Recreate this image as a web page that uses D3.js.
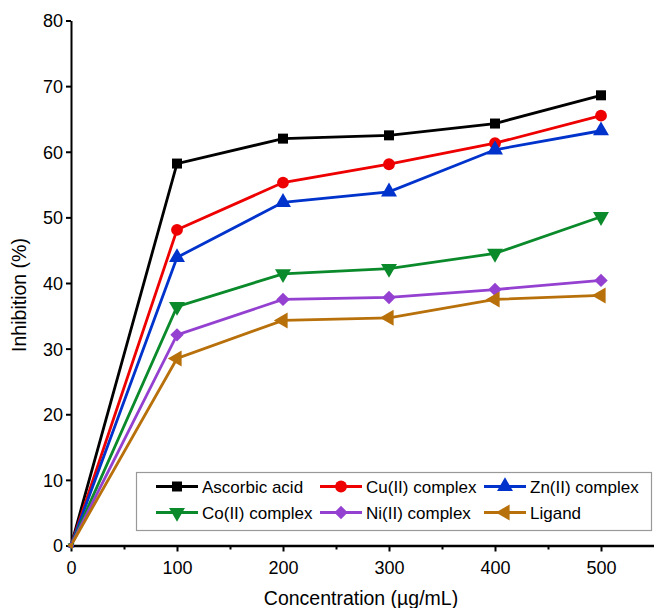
<!DOCTYPE html>
<html>
<head>
<meta charset="utf-8">
<script src="https://cdn.jsdelivr.net/npm/d3@7"></script>
<style>
  body { margin: 0; background: #fff; }
  svg text { font-family: "Liberation Sans", Arial, sans-serif; fill: #000; }
</style>
</head>
<body>
<svg id="chart" width="654" height="608"></svg>
<script>
// data
const concentrations = [0, 100, 200, 300, 400, 500];
const seriesNames = ["Ascorbic acid", "Cu(II) complex", "Zn(II) complex", "Co(II) complex", "Ni(II) complex", "Ligand"];
const ascorbic = [0, 58.2, 62.0, 62.5, 64.3, 68.6];
const cuComplex = [0, 48.1, 55.3, 58.1, 61.3, 65.5];
const znComplex = [0, 43.9, 52.3, 53.9, 60.3, 63.2];
const coComplex = [0, 36.4, 41.4, 42.2, 44.5, 50.1];
const niComplex = [0, 32.1, 37.5, 37.8, 39.0, 40.4];
const ligand = [0, 28.5, 34.3, 34.7, 37.5, 38.1];
const yTicks = [0, 10, 20, 30, 40, 50, 60, 70, 80];
const xTicks = [0, 100, 200, 300, 400, 500];

const seriesValues = [ascorbic, cuComplex, znComplex, coComplex, niComplex, ligand];
const colors = ["#000000", "#ee0000", "#0033cc", "#0a8a2a", "#9440d0", "#b8700a"];
// symbol type + rotation for each series
const markers = [
    { type: d3.symbolSquare, size: 100, rotate: 0 },
    { type: d3.symbolCircle, size: 110, rotate: 0 },
    { type: d3.symbolTriangle, size: 110, rotate: 0 },
    { type: d3.symbolTriangle, size: 110, rotate: 180 },
    { type: d3.symbolSquare, size: 90, rotate: 45 },
    { type: d3.symbolTriangle, size: 110, rotate: -90 }
];

const svg = d3.select("#chart");
const margin = { left: 71, top: 20.5 };

const x = d3.scaleLinear().domain([0, 550]).range([margin.left, 654]);
const y = d3.scaleLinear().domain([0, 80]).range([545.5, margin.top]);

// y axis
const gy = svg.append("g")
    .attr("transform", `translate(${margin.left},0)`)
    .call(d3.axisLeft(y).tickValues(yTicks).tickSize(5).tickPadding(3).tickSizeOuter(0));
gy.select(".domain").attr("stroke", "#000").attr("stroke-width", 2);
gy.selectAll(".tick line").attr("stroke-width", 2);
gy.selectAll(".tick text").style("font-size", "18px").attr("dy", "0.36em");

// x axis, minor ticks first
svg.append("g")
    .attr("transform", `translate(0,${y(0)})`)
    .call(d3.axisBottom(x).tickValues([50, 150, 250, 350, 450]).tickSize(4).tickFormat(""))
    .call(g => g.select(".domain").remove())
    .selectAll(".tick line").attr("stroke-width", 2);

const gx = svg.append("g")
    .attr("transform", `translate(0,${y(0)})`)
    .call(d3.axisBottom(x).tickValues(xTicks).tickSize(6).tickPadding(10).tickSizeOuter(0));
gx.select(".domain").attr("stroke", "#000").attr("stroke-width", 2.5);
gx.selectAll(".tick line").attr("stroke-width", 2);
gx.selectAll(".tick text").style("font-size", "18px");

// axis titles
svg.append("text")
    .attr("transform", `translate(26,${(y(0) + y(80)) / 2 + 12}) rotate(-90)`)
    .attr("text-anchor", "middle")
    .style("font-size", "19.5px")
    .text("Inhibition (%)");

svg.append("text")
    .attr("x", 361)
    .attr("y", 605)
    .attr("text-anchor", "middle")
    .style("font-size", "19.5px")
    .text("Concentration (µg/mL)");

// lines
const line = d3.line()
    .x((d, i) => x(concentrations[i]))
    .y(d => y(d));

const plot = svg.append("g");

seriesValues.forEach((vals, s) => {
    plot.append("path")
        .datum(vals)
        .attr("fill", "none")
        .attr("stroke", colors[s])
        .attr("stroke-width", 2.8)
        .attr("d", line);
});

seriesValues.forEach((vals, s) => {
    const m = markers[s];
    plot.selectAll(null)
        .data(vals)
        .join("path")
        .attr("transform", (d, i) => `translate(${x(concentrations[i])},${y(d)}) rotate(${m.rotate})`)
        .attr("fill", colors[s])
        // the origin markers are barely visible in the reference
        .attr("d", (d, i) => d3.symbol(m.type, i === 0 ? 20 : m.size)());
});

// legend
const legend = svg.append("g");
legend.append("rect")
    .attr("x", 136.5)
    .attr("y", 472.5)
    .attr("width", 515)
    .attr("height", 58)
    .attr("fill", "#fff")
    .attr("stroke", "#999")
    .attr("stroke-width", 1.2);

const legendCols = [156, 320, 484];
const legendRows = [486.5, 512.5];

seriesNames.forEach((name, s) => {
    const lx = legendCols[s % 3];
    const ly = legendRows[Math.floor(s / 3)];
    const m = markers[s];
    const item = legend.append("g");
    item.append("line")
        .attr("x1", lx).attr("x2", lx + 42)
        .attr("y1", ly).attr("y2", ly)
        .attr("stroke", colors[s])
        .attr("stroke-width", 2.8);
    item.append("path")
        .attr("transform", `translate(${lx + 21},${ly}) rotate(${m.rotate})`)
        .attr("fill", colors[s])
        .attr("d", d3.symbol(m.type, m.size));
    item.append("text")
        .attr("x", lx + 46)
        .attr("y", ly)
        .attr("dy", "0.36em")
        .style("font-size", "17px")
        .text(name);
});
</script>
</body>
</html>
